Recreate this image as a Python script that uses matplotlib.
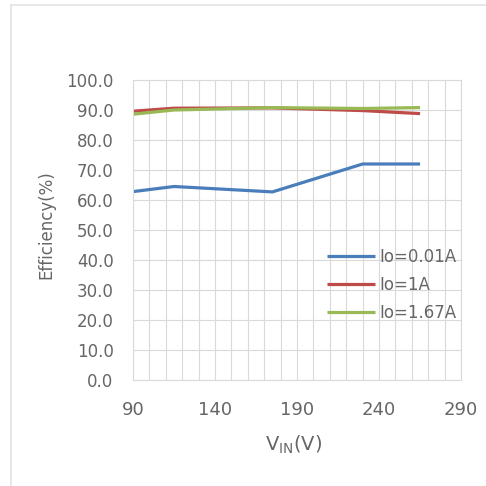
import matplotlib.pyplot as plt
import numpy as np
from matplotlib.lines import Line2D

# input voltage sweep (V) and measured efficiency (%)
vin = [90, 115, 175, 230, 265]
eff_001a = [62.8, 64.5, 62.7, 72.0, 72.0]
eff_1a = [89.6, 90.6, 90.7, 89.8, 88.8]
eff_167a = [88.6, 90.0, 90.8, 90.5, 90.8]
series_labels = ['Io=0.01A', 'Io=1A', 'Io=1.67A']

x_ticks = [90, 140, 190, 240, 290]
y_ticks = np.arange(0, 101, 10)

text_color = '#666666'
grid_color = '#dadada'
colors = ['#4a7ebb', '#be4b48', '#98b954']
fs = 12

plt.rcParams.update({'font.family': ['DejaVu Sans'],
                     'font.size': fs})

fig = plt.figure(figsize=(4.86, 4.86), dpi=100)
ax = fig.add_axes([0.2737, 0.2181, 0.675, 0.6173])

for y, c, lab in zip([eff_001a, eff_1a, eff_167a], colors, series_labels):
    ax.plot(vin, y, color=c, linewidth=2.3, label=lab, solid_capstyle='butt')

ax.set_xlim(90, 290)
ax.set_ylim(0, 100)
ax.set_xticks(x_ticks)
ax.set_xticks(np.arange(90, 291, 10), minor=True)
ax.set_yticks(y_ticks)
ax.set_yticklabels(['{:.1f}'.format(v) for v in y_ticks])

ax.grid(True, which='both', axis='x', color=grid_color, linewidth=0.8)
ax.grid(True, which='major', axis='y', color=grid_color, linewidth=0.8)
ax.set_axisbelow(True)
for s in ax.spines.values():
    s.set_color(grid_color)
    s.set_linewidth(0.8)
ax.tick_params(which='both', length=0, colors=text_color)
ax.tick_params(axis='x', pad=15, labelsize=13)
ax.tick_params(axis='y', pad=14, labelsize=fs)

ax.set_xlabel(r'V$_{\mathregular{IN}}$(V)', color=text_color, fontsize=14, va='center')
ax.set_ylabel('Efficiency(%)', color=text_color, fontsize=fs, va='center')
ax.xaxis.set_label_coords(0.49, -0.217)
ax.yaxis.set_label_coords(-0.265, 0.517)

leg = ax.legend(loc='center left', bbox_to_anchor=(0.570, 0.317), frameon=False,
                handlelength=2.9, handletextpad=0.25, labelspacing=0.6,
                borderaxespad=0, fontsize=fs)
for t in leg.get_texts():
    t.set_color(text_color)

# outer chart frame
fig.add_artist(Line2D([11 / 486, 11 / 486], [0, 1 - 5 / 486], color='#e3e3e3', linewidth=1.2))
fig.add_artist(Line2D([11 / 486, 1], [1 - 5 / 486, 1 - 5 / 486], color='#e3e3e3', linewidth=1.2))

fig.savefig('out.png', dpi=100)
